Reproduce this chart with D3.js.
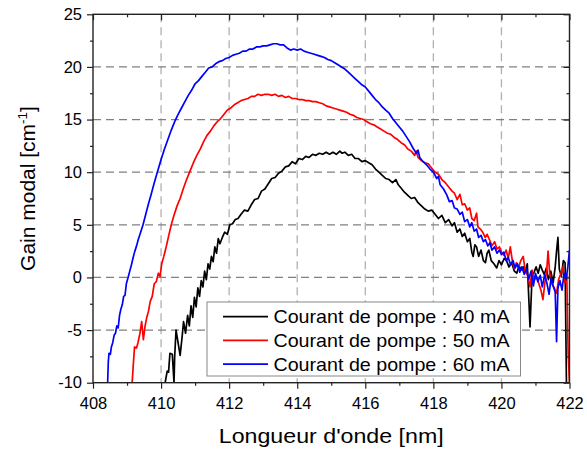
<!DOCTYPE html>
<html><head><meta charset="utf-8">
<script src="https://cdn.jsdelivr.net/npm/d3@7/dist/d3.min.js"></script>
<style>body{margin:0;background:#fff}svg{display:block}text{font-family:"Liberation Sans",Arial,sans-serif;fill:#000}</style>
</head><body><svg id="c" width="587" height="453"></svg>
<script>
const xTicks = [408,410,412,414,416,418,420,422];
const yTicks = [-10,-5,0,5,10,15,20,25];
const seriesNames = ["Courant de pompe : 40 mA","Courant de pompe : 50 mA","Courant de pompe : 60 mA"];
const seriesColors = ["#000000","#ff0000","#0000ff"];

const wl40 = [410.12,410.18,410.22,410.26,410.33,410.38,410.40,410.44,410.50,410.56,410.62,410.66,410.72,410.78,410.83,410.88,410.93,410.98,411.03,411.08,411.13,411.18,411.23,411.28,411.33,411.38,411.43,411.48,411.53,411.58,411.63,411.68,411.73,411.80,411.87,411.95,412.02,412.10,412.18,412.26,412.35,412.45,412.55,412.65,412.75,412.85,412.95,413.05,413.15,413.25,413.35,413.45,413.55,413.65,413.75,413.85,413.95,414.05,414.15,414.25,414.35,414.45,414.55,414.65,414.75,414.85,414.95,415.05,415.15,415.25,415.32,415.40,415.50,415.60,415.70,415.80,415.90,416.00,416.10,416.20,416.30,416.40,416.50,416.60,416.70,416.80,416.90,416.97,417.05,417.15,417.25,417.35,417.45,417.55,417.65,417.75,417.85,417.95,418.05,418.15,418.25,418.35,418.45,418.55,418.62,418.70,418.78,418.85,418.92,419.00,419.07,419.13,419.17,419.22,419.27,419.33,419.40,419.47,419.53,419.58,419.63,419.70,419.78,419.86,419.93,420.00,420.08,420.15,420.22,420.30,420.38,420.45,420.52,420.58,420.64,420.70,420.76,420.84,420.90,420.96,421.02,421.08,421.14,421.20,421.26,421.32,421.38,421.45,421.52,421.58,421.62,421.66,421.70,421.76,421.82,421.87,421.91];
const gain40 = [-10,-8.9,-9.0,-7.2,-7.3,-10,-7.5,-5.0,-6.2,-7.4,-5.6,-4.2,-5.3,-3.6,-4.6,-2.7,-3.8,-1.9,-2.8,-1.0,-1.8,-0.3,-0.9,0.6,-0.2,1.3,0.8,2.0,1.5,2.9,2.3,3.7,3.2,3.8,4.3,4.1,5.0,5.1,5.5,5.6,6.0,6.4,6.3,6.9,7.4,7.5,8.2,8.4,8.9,9.4,9.5,9.9,10.1,10.5,10.6,11.0,10.8,11.3,11.2,11.5,11.4,11.7,11.6,11.8,11.7,11.9,11.7,11.9,11.7,12.0,11.8,11.9,11.6,11.7,11.3,11.3,11.0,11.1,10.9,10.7,10.3,10.0,9.7,9.4,9.3,9.0,9.3,8.8,8.5,8.1,7.8,7.5,7.6,7.1,6.8,6.5,6.3,6.4,6.0,5.6,5.9,5.2,5.5,4.9,5.2,4.3,4.6,3.9,4.2,3.4,3.7,2.4,2.0,3.1,2.9,2.0,2.6,1.6,1.4,2.3,2.6,1.6,1.3,0.9,1.6,1.2,1.8,1.6,1.0,1.4,0.6,0.4,1.1,0.7,1.0,0.5,1.3,-4.7,0.1,0.5,1.0,0.4,1.2,0.7,0.3,0.9,-0.2,0.6,-0.5,1.0,2.5,3.8,0.8,0.1,1.6,1.4,-10];

const wl50 = [409.15,409.18,409.22,409.28,409.32,409.38,409.43,409.48,409.53,409.58,409.63,409.68,409.74,409.80,409.86,409.92,409.97,410.02,410.08,410.15,410.22,410.30,410.38,410.47,410.56,410.65,410.75,410.85,410.95,411.05,411.15,411.25,411.35,411.45,411.55,411.65,411.75,411.85,411.95,412.05,412.15,412.25,412.35,412.45,412.55,412.65,412.75,412.85,412.95,413.05,413.15,413.25,413.35,413.45,413.55,413.65,413.75,413.85,413.95,414.05,414.15,414.25,414.35,414.45,414.55,414.65,414.75,414.85,414.95,415.05,415.15,415.25,415.35,415.45,415.55,415.65,415.75,415.85,415.95,416.05,416.15,416.25,416.35,416.45,416.55,416.65,416.75,416.85,416.95,417.05,417.15,417.25,417.35,417.45,417.50,417.55,417.65,417.75,417.85,417.95,418.05,418.15,418.25,418.35,418.45,418.55,418.62,418.70,418.78,418.85,418.92,419.00,419.07,419.13,419.20,419.27,419.31,419.38,419.45,419.52,419.58,419.66,419.72,419.80,419.87,419.94,420.00,420.07,420.14,420.20,420.26,420.32,420.38,420.44,420.50,420.57,420.64,420.70,420.77,420.84,420.90,420.96,421.03,421.10,421.16,421.22,421.28,421.33,421.37,421.42,421.48,421.55,421.62,421.68,421.75,421.81,421.86,421.92,421.96,422.00];
const gain50 = [-10,-8.5,-6.6,-6.7,-6.2,-5.3,-4.2,-5.9,-4.6,-3.8,-3.2,-2.3,-1.8,-0.6,-0.4,0.4,0.1,1.3,2.0,2.9,3.9,5.0,5.9,6.8,7.5,8.4,9.3,10.1,10.9,11.6,12.2,12.9,13.5,13.9,14.4,14.8,15.1,15.5,15.9,16.1,16.4,16.6,16.8,16.9,17.0,17.2,17.2,17.4,17.3,17.4,17.4,17.3,17.4,17.2,17.3,17.1,17.2,17.0,17.0,16.9,16.9,16.8,16.8,16.7,16.7,16.6,16.5,16.3,16.2,16.1,16.0,15.9,15.8,15.7,15.5,15.4,15.2,15.1,15.0,14.8,14.6,14.5,14.3,14.1,13.9,13.7,13.6,13.3,13.1,12.8,12.6,12.2,12.0,11.6,12.0,11.4,11.1,10.9,10.8,10.4,10.0,9.8,9.3,9.0,8.6,8.2,8.0,7.4,7.9,6.9,7.0,6.4,6.6,5.6,5.4,6.1,4.8,4.6,4.3,3.8,4.1,3.5,3.0,3.4,2.7,2.9,2.4,2.1,2.6,1.8,2.9,1.6,0.8,1.4,0.9,1.6,2.0,0.6,0.2,-0.9,0.7,-0.3,0.1,-0.6,-1.2,-2.1,-0.4,0.6,2.5,0.3,-0.6,-1.0,-1.5,-0.2,0.4,1.0,-0.5,0.3,-7.2,-10];

const wl60 = [408.43,408.45,408.47,408.51,408.54,408.58,408.62,408.66,408.70,408.74,408.78,408.82,408.86,408.90,408.94,408.98,409.03,409.08,409.13,409.18,409.23,409.28,409.33,409.40,409.47,409.55,409.63,409.71,409.80,409.89,410.00,410.10,410.20,410.30,410.40,410.50,410.60,410.70,410.80,410.90,411.00,411.10,411.20,411.30,411.40,411.50,411.60,411.70,411.80,411.90,412.00,412.10,412.20,412.30,412.40,412.50,412.60,412.70,412.80,412.90,413.00,413.10,413.20,413.30,413.40,413.50,413.60,413.70,413.80,413.90,414.00,414.10,414.20,414.30,414.40,414.50,414.60,414.70,414.80,414.90,415.00,415.10,415.20,415.30,415.40,415.50,415.60,415.70,415.80,415.90,416.00,416.10,416.20,416.30,416.40,416.50,416.60,416.70,416.80,416.90,417.00,417.10,417.20,417.30,417.40,417.50,417.55,417.60,417.70,417.80,417.90,418.00,418.10,418.15,418.20,418.30,418.40,418.47,418.55,418.62,418.70,418.78,418.85,418.92,419.00,419.07,419.13,419.20,419.27,419.33,419.40,419.47,419.53,419.60,419.66,419.72,419.80,419.87,419.94,420.00,420.07,420.14,420.20,420.27,420.34,420.40,420.47,420.54,420.60,420.67,420.74,420.80,420.87,420.94,421.00,421.07,421.14,421.20,421.27,421.34,421.40,421.46,421.52,421.58,421.62,421.66,421.72,421.78,421.84,421.90,421.95,422.00];
const gain60 = [-10,-8.0,-7.2,-7.3,-6.6,-6.2,-5.5,-5.3,-4.6,-4.8,-3.6,-3.0,-2.6,-1.8,-1.7,-0.6,0.0,0.6,1.2,1.9,2.5,3.0,3.6,4.3,5.0,6.0,7.0,7.9,9.0,10.0,11.2,12.2,13.1,14.0,14.8,15.5,16.1,16.7,17.3,17.8,18.4,18.7,19.1,19.5,19.9,20.0,20.3,20.5,20.6,20.8,20.9,21.1,21.2,21.3,21.5,21.5,21.7,21.7,21.9,21.9,22.0,22.0,22.1,22.2,22.2,22.1,22.1,21.8,21.6,21.7,21.6,21.7,21.5,21.4,21.3,21.2,21.1,21.0,20.9,20.7,20.6,20.4,20.2,20.0,19.8,19.5,19.2,18.9,18.6,18.3,18.1,17.7,17.3,16.9,16.6,16.2,15.9,15.6,15.1,14.7,14.3,13.9,13.4,12.9,12.3,11.8,12.1,11.4,11.0,10.7,10.3,10.0,9.4,9.6,8.8,8.4,7.8,7.2,7.3,6.6,6.5,6.0,6.2,5.3,5.5,4.8,5.2,4.4,4.6,3.8,4.0,3.4,3.6,3.0,3.3,2.6,2.9,2.3,2.6,2.2,2.4,1.6,1.9,1.2,1.6,0.9,1.3,0.5,1.0,0.3,0.8,-0.2,0.6,-0.8,0.4,-0.4,0.2,-0.9,0.3,-0.6,-1.6,0.0,-0.8,-1.4,-6.1,-1.0,-0.3,-1.2,0.4,-0.2,1.0,2.6];

const series = [[wl40,gain40],[wl50,gain50],[wl60,gain60]];

const svg = d3.select("#c");
const L=93, R=569.5, T=14.3, B=382.7;
const x = d3.scaleLinear().domain([408,422]).range([L,R]);
const y = d3.scaleLinear().domain([-10,25]).range([B,T]);
const xMinor = d3.range(408,422.01,1).filter(v=>v%2!==0);
const yMinor = d3.range(-10,25.01,2.5).filter(v=>v%5!==0);
const plainFmt = d => String(d);

// grid
svg.append("g").selectAll("line").data(xTicks.slice(1,-1)).join("line")
  .attr("x1",d=>x(d)).attr("x2",d=>x(d)).attr("y1",T).attr("y2",B)
  .attr("stroke","#b0b0b0").attr("stroke-width",1.3).attr("stroke-dasharray","8,5");
svg.append("g").selectAll("line").data(yTicks.slice(1,-1)).join("line")
  .attr("y1",d=>y(d)).attr("y2",d=>y(d)).attr("x1",L).attr("x2",R)
  .attr("stroke","#808080").attr("stroke-width",1.3).attr("stroke-dasharray","8,5");

// curves
svg.append("clipPath").attr("id","clip").append("rect").attr("x",L).attr("y",T).attr("width",R-L).attr("height",B-T);
const line = d3.line().x(d=>x(d[0])).y(d=>y(d[1]));
const gCurves = svg.append("g").attr("clip-path","url(#clip)");
series.forEach((s,i)=>{
  const pts = s[0].map((w,j)=>[w,s[1][j]]);
  gCurves.append("path").datum(pts).attr("d",line).attr("fill","none")
    .attr("stroke",seriesColors[i]).attr("stroke-width",1.7).attr("stroke-linejoin","round");
});

// axes
function styleAxis(g){g.select(".domain").remove();g.selectAll("line").attr("stroke","#222").attr("stroke-width",1.2);g.selectAll("text").style("font-size","16.5px").style("font-family","'Liberation Sans',Arial,sans-serif").attr("fill","#000");}
svg.append("g").attr("transform",`translate(0,${B})`).call(d3.axisBottom(x).tickValues(xTicks).tickSize(6).tickPadding(9).tickFormat(plainFmt)).call(styleAxis);
svg.append("g").attr("transform",`translate(0,${B})`).call(d3.axisBottom(x).tickValues(xMinor).tickSize(3).tickFormat("")).call(styleAxis);
svg.append("g").attr("transform",`translate(0,${T})`).call(d3.axisTop(x).tickValues(xTicks).tickSize(-6).tickFormat("")).call(styleAxis);
svg.append("g").attr("transform",`translate(0,${T})`).call(d3.axisTop(x).tickValues(xMinor).tickSize(-3).tickFormat("")).call(styleAxis);
svg.append("g").attr("transform",`translate(${L},0)`).call(d3.axisLeft(y).tickValues(yTicks).tickSize(6).tickPadding(5).tickFormat(plainFmt)).call(styleAxis);
svg.append("g").attr("transform",`translate(${L},0)`).call(d3.axisLeft(y).tickValues(yMinor).tickSize(3).tickFormat("")).call(styleAxis);
svg.append("g").attr("transform",`translate(${R},0)`).call(d3.axisRight(y).tickValues(yTicks).tickSize(-6).tickFormat("")).call(styleAxis);
svg.append("g").attr("transform",`translate(${R},0)`).call(d3.axisRight(y).tickValues(yMinor).tickSize(-3).tickFormat("")).call(styleAxis);

svg.append("rect").attr("x",L).attr("y",T).attr("width",R-L).attr("height",B-T)
  .attr("fill","none").attr("stroke","#222").attr("stroke-width",1.4);

// legend
const lg = svg.append("g");
lg.append("rect").attr("x",207).attr("y",302).attr("width",313.5).attr("height",74)
  .attr("fill","#fff").attr("stroke","#888").attr("stroke-width",1);
seriesNames.forEach((n,i)=>{
  const yy = 316.7 + i*23.7;
  lg.append("line").attr("x1",223).attr("x2",268).attr("y1",yy).attr("y2",yy)
    .attr("stroke",seriesColors[i]).attr("stroke-width",1.7);
  lg.append("text").attr("x",273.5).attr("y",yy).attr("dy","0.36em").style("font-size","18.5px")
    .attr("textLength",236).attr("lengthAdjust","spacingAndGlyphs").text(n);
});

// titles
svg.append("text").attr("x",(L+R)/2).attr("y",443).attr("text-anchor","middle").style("font-size","21px")
  .attr("textLength",225).attr("lengthAdjust","spacingAndGlyphs").text("Longueur d'onde [nm]");
const yt = svg.append("text").attr("transform",`translate(34.5,188.5) rotate(-90)`).attr("text-anchor","middle").style("font-size","21px");
yt.append("tspan").text("Gain modal [cm");
yt.append("tspan").attr("dy","-8").style("font-size","13.5px").text("-1");
yt.append("tspan").attr("dy","8").text("]");
</script></body></html>
